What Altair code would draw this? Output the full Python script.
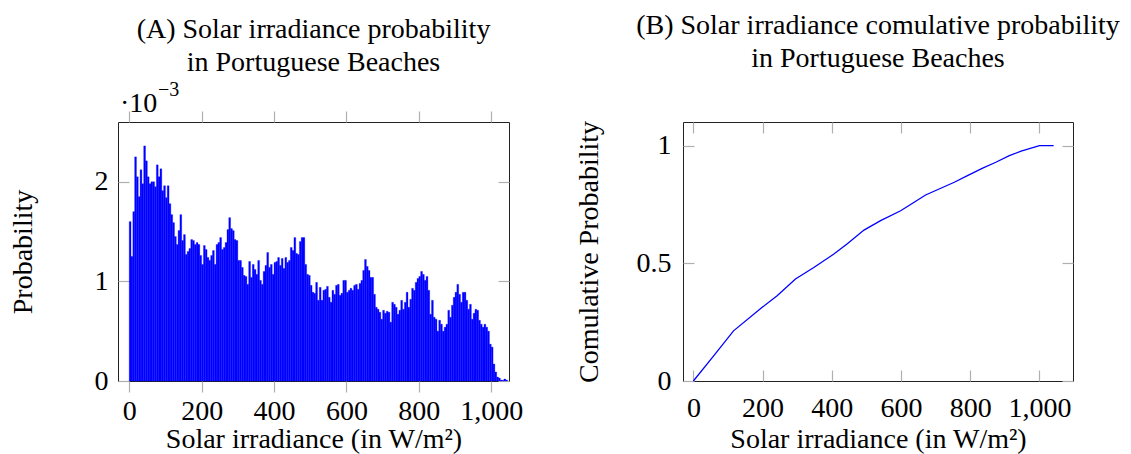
import altair as alt
import pandas as pd

# ---------------- data ----------------
bin_start = list(range(0, 1045, 5))  # W/m², bin width 5
prob_e3 = [
    1.60, 1.25, 1.70, 2.25, 2.05, 1.85, 2.12, 1.98, 2.36, 2.21,   # 0-45
    2.05, 1.98, 2.00, 2.00, 1.95, 2.17, 2.05, 2.13, 1.91, 1.96,   # 50-95
    1.84, 1.96, 1.78, 1.67, 1.59, 1.45, 1.37, 1.51, 1.67, 1.41,   # 100-145
    1.47, 1.27, 1.30, 1.33, 1.42, 1.41, 1.37, 1.39, 1.37, 1.26,   # 150-195
    1.17, 1.36, 1.32, 1.24, 1.21, 1.26, 1.31, 1.17, 1.37, 1.39,   # 200-245
    1.44, 1.32, 1.34, 1.39, 1.52, 1.64, 1.53, 1.51, 1.42, 1.41,   # 250-295
    1.21, 1.21, 1.14, 1.06, 1.05, 0.97, 1.20, 1.04, 1.17, 1.12,   # 300-345
    1.07, 1.21, 1.01, 0.97, 1.10, 1.16, 1.29, 1.14, 1.17, 1.07,   # 350-395
    1.19, 1.20, 1.24, 1.16, 1.23, 1.13, 1.24, 1.19, 1.21, 1.34,   # 400-445
    1.31, 1.44, 1.28, 1.27, 1.40, 1.44, 1.44, 1.17, 1.07, 1.06,   # 450-495
    0.96, 0.89, 0.88, 0.99, 0.81, 0.94, 0.81, 0.91, 0.92, 0.95,   # 500-545
    0.84, 0.79, 0.91, 0.87, 0.96, 0.97, 0.86, 0.88, 1.01, 1.01,   # 550-595
    0.89, 0.91, 0.93, 0.91, 0.96, 0.97, 0.92, 0.98, 1.01, 1.11,   # 600-645
    1.22, 1.15, 1.11, 1.04, 1.04, 0.87, 0.74, 0.72, 0.69, 0.62,   # 650-695
    0.71, 0.68, 0.70, 0.69, 0.59, 0.79, 0.77, 0.74, 0.67, 0.71,   # 700-745
    0.81, 0.72, 0.79, 0.89, 0.74, 0.82, 0.93, 0.91, 0.99, 1.03,   # 750-795
    1.05, 1.10, 1.07, 1.01, 1.05, 0.91, 0.67, 0.81, 0.64, 0.62,   # 800-845
    0.50, 0.61, 0.57, 0.50, 0.54, 0.57, 0.71, 0.64, 0.76, 0.84,   # 850-895
    0.89, 0.97, 0.87, 0.79, 0.89, 0.89, 0.81, 0.72, 0.77, 0.62,   # 900-945
    0.68, 0.72, 0.71, 0.61, 0.57, 0.54, 0.57, 0.54, 0.50, 0.37,   # 950-995
    0.34, 0.17, 0.09, 0.04, 0.03, 0.01, 0.007, 0.02, 0.01,        # 1000-1040
]

cum_x = [0, 58, 116, 198, 242, 295, 348, 406, 444, 493, 541,
         599, 638, 671, 754, 792, 836, 874, 913, 947, 1000, 1041]
cum_y = [0, 0.106, 0.213, 0.312, 0.362, 0.433, 0.482, 0.539, 0.582, 0.641, 0.681,
         0.723, 0.759, 0.790, 0.844, 0.872, 0.904, 0.929, 0.957, 0.976, 1.0, 1.0]

x_ticks = [0, 200, 400, 600, 800, 1000]
y_ticks_left = [0, 0.001, 0.002]
y_ticks_right = [0, 0.5, 1]

hist = pd.DataFrame({
    "x0": bin_start,
    "x1": [b + 5 for b in bin_start],
    "p": [v * 1e-3 for v in prob_e3],
})
cum = pd.DataFrame({"x": cum_x, "y": cum_y})

# ---------------- style ----------------
FONT = "Liberation Serif"
TICK = "#b0b0b0"
BLUE = "#0000ff"
TL = 11  # tick length


def tick_axis(orient, values, offset=0):
    return alt.Axis(orient=orient, values=values, labels=False, title=None,
                    domain=False, grid=False, ticks=True, tickSize=TL,
                    tickColor=TICK, tickWidth=1.2, offset=offset)


# ---------------- left panel ----------------
xs_l = alt.Scale(domain=[-31, 1049], nice=False, zero=False)
ys_l = alt.Scale(domain=[0, 0.0026], nice=False)

bars = alt.Chart(hist).mark_rect(color=BLUE, stroke=BLUE, strokeWidth=0.3).encode(
    x=alt.X("x0:Q", scale=xs_l,
            axis=alt.Axis(orient="bottom", values=x_ticks, format=",d",
                          tickSize=TL, tickColor=TICK, tickWidth=1.2,
                          labelPadding=5, title="Solar irradiance (in W/m²)",
                          titlePadding=0, domain=False, grid=False)),
    x2="x1:Q",
    y=alt.Y("p:Q", scale=ys_l,
            axis=alt.Axis(orient="left", values=y_ticks_left,
                          labelExpr="format(datum.value * 1000, 'd')",
                          ticks=False, labelPadding=10, title="Probability",
                          titlePadding=57, domain=False, grid=False)),
    y2=alt.datum(0),
)

inv_l1 = alt.Chart(hist).mark_rect(opacity=0).encode(
    x=alt.X("x0:Q", scale=xs_l, axis=tick_axis("top", x_ticks)),
    x2="x1:Q",
    y=alt.Y("p:Q", scale=ys_l, axis=tick_axis("right", y_ticks_left, -TL)),
    y2=alt.datum(0),
)
inv_l2 = alt.Chart(hist).mark_rect(opacity=0).encode(
    x=alt.X("x0:Q", scale=xs_l, axis=None),
    x2="x1:Q",
    y=alt.Y("p:Q", scale=ys_l, axis=tick_axis("left", y_ticks_left, -TL)),
    y2=alt.datum(0),
)

exp_df = pd.DataFrame({"t": ["·10"]})
exp_main = alt.Chart(exp_df).mark_text(
    font=FONT, fontSize=28, align="left", baseline="alphabetic", color="black"
).encode(x=alt.value(2), y=alt.value(-10), text="t:N")
exp_sup = alt.Chart(pd.DataFrame({"t": ["−3"]})).mark_text(
    font=FONT, fontSize=20, align="left", baseline="alphabetic", color="black"
).encode(x=alt.value(40), y=alt.value(-26), text="t:N")

left = alt.layer(bars, inv_l1, inv_l2, exp_main, exp_sup).resolve_axis(
    x="independent", y="independent"
).properties(
    width=391, height=259,
    title=alt.TitleParams(["(A) Solar irradiance probability", "in Portuguese Beaches"],
                          anchor="middle", frame="group", baseline="bottom",
                          offset=-25),
)

# ---------------- right panel ----------------
xs_r = alt.Scale(domain=[-30, 1097], nice=False, zero=False)
ys_r = alt.Scale(domain=[0, 1.1], nice=False)

line = alt.Chart(cum).mark_line(color=BLUE, strokeWidth=1.3).encode(
    x=alt.X("x:Q", scale=xs_r,
            axis=alt.Axis(orient="bottom", values=x_ticks, format=",d",
                          ticks=False, labelPadding=13,
                          title="Solar irradiance (in W/m²)", titlePadding=3,
                          domain=False, grid=False)),
    y=alt.Y("y:Q", scale=ys_r,
            axis=alt.Axis(orient="left", values=y_ticks_right, format="~g",
                          ticks=False, labelPadding=12,
                          title="Comulative Probability", titlePadding=33,
                          domain=False, grid=False)),
)
inv_r1 = alt.Chart(cum).mark_point(opacity=0).encode(
    x=alt.X("x:Q", scale=xs_r, axis=tick_axis("top", x_ticks, -TL)),
    y=alt.Y("y:Q", scale=ys_r, axis=tick_axis("right", y_ticks_right, -TL)),
)
inv_r2 = alt.Chart(cum).mark_point(opacity=0).encode(
    x=alt.X("x:Q", scale=xs_r, axis=tick_axis("bottom", x_ticks, -TL)),
    y=alt.Y("y:Q", scale=ys_r, axis=tick_axis("left", y_ticks_right, -TL)),
)

right = alt.layer(line, inv_r1, inv_r2).resolve_axis(
    x="independent", y="independent"
).properties(
    width=390, height=259,
    title=alt.TitleParams(["(B) Solar irradiance comulative probability",
                           "in Portuguese Beaches"],
                          anchor="middle", frame="group", baseline="bottom",
                          offset=19),
)

chart = alt.hconcat(left, right, spacing=50).properties(
    padding={"top": 3, "left": 0, "right": 0, "bottom": 0}
).configure_view(
    stroke="#222222", strokeWidth=1
).configure_axis(
    labelFont=FONT, titleFont=FONT, labelFontSize=28, titleFontSize=28,
    labelColor="black", titleColor="black", titleFontWeight="normal",
).configure_title(
    font=FONT, fontSize=28, fontWeight="normal", color="black", lineHeight=33,
)

chart.save("out.html", embed_options={"renderer": "svg", "actions": False})
